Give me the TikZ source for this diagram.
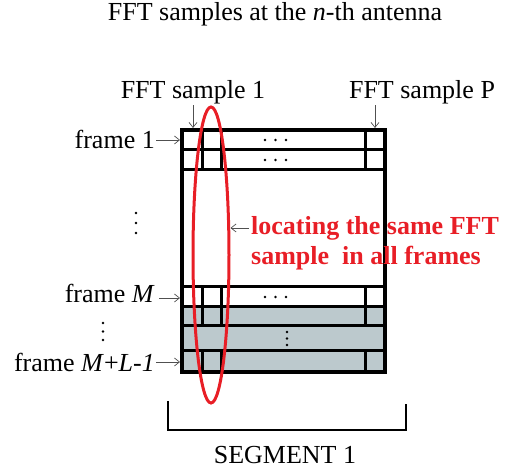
\documentclass[tikz,border=0pt]{standalone}
\usepackage{fontspec}
\setmainfont{Liberation Serif}
\usetikzlibrary{arrows.meta,shapes.geometric}

\definecolor{markrot}{RGB}{232,30,38}
\definecolor{zellgrau}{RGB}{188,201,205}
\definecolor{pfeilgrau}{RGB}{80,80,80}

\begin{document}
\begin{tikzpicture}[x=1pt,y=-1pt,
  >={Straight Barb[length=5pt,width=8pt]},
  every node/.style={font=\fontsize{26}{30}\selectfont, inner sep=1pt},
  zeiger/.style={->, draw=pfeilgrau, line width=0.7pt},
  zelle/.style={draw=black, line width=3pt}]

\useasboundingbox (0,0) rectangle (507,470);

% Titel
\node (titel) at (275,14.5) {FFT samples at the \textit{n}-th antenna};

% Zeilen der Frames mit Zellen
\foreach \yo/\yu/\fb in {130/150/white, 150/170/white, 287/307/white, 307/326/zellgrau, 351/372/zellgrau}
  \foreach \xl/\xr in {182/202, 202/221, 221/365, 365/385}
    \draw[zelle, fill=\fb] (\xl,\yo) rectangle (\xr,\yu);
\draw[zelle, fill=zellgrau] (182,326) rectangle (385,351);

% Rahmen aussen
\draw[line width=3.6pt] (182,130) rectangle (385,372);

% Punkte in den Zeilen
\foreach \y in {140,160,297}
  \foreach \x in {265,275.5,286}
    \fill (\x,\y) circle (1.4pt);
\foreach \y in {332,338.5,345}
  \fill (287,\y) circle (1.4pt);

% Punkte links
\foreach \y in {213,223,233}
  \fill (136,\y) circle (1.4pt);
\foreach \y in {323,331.5,340}
  \fill (103,\y) circle (1.4pt);

% FFT sample 1 und P oben
\node (s1) at (193,92.5) {FFT sample 1};
\node (sP) at (422,92.5) {FFT sample P};
\coordinate (s1p) at (193,128);
\coordinate (sPp) at (375,128);
\draw[zeiger] (s1.south -| s1p) -- (s1p);
\draw[zeiger] (sP.south -| sPp) -- (sPp);

% frame-Beschriftungen links
\node[anchor=east] (f1) at (156,139) {frame 1};
\node[anchor=east] (fM) at (156,293) {frame \textit{M}};
\node[anchor=east] (fML) at (156,362) {frame \textit{M}+\textit{L-1}};
\coordinate (f1p) at (180,140);
\coordinate (fMp) at (180,298);
\coordinate (fMLp) at (180,362);
\draw[zeiger] (f1.east |- f1p) -- (f1p);
\draw[zeiger] ([xshift=3pt]fM.east |- fMp) -- (fMp);
\draw[zeiger] (fML.east |- fMLp) -- (fMLp);

% rote Ellipse um die Spalte
\node[ellipse, draw=markrot, line width=3pt, minimum width=36pt,
  minimum height=296pt, inner sep=0pt] (oval) at (211,255) {};

% Hinweis rechts
\node[anchor=west, align=left, text=markrot, inner sep=0pt,
  font=\fontsize{26}{30}\selectfont\bfseries] (hinweis) at (251,243)
  {locating the same FFT\\sample\ \ in all frames};
\coordinate (hA) at ([xshift=-2pt,yshift=15pt]hinweis.west);
\draw[zeiger] (hA) -- (hA -| oval.east);

% Klammer unten
\draw[line width=2.5pt] (168,401) |- (406,430) -- (406,404);
\node (segment) at (285,455) {SEGMENT 1};

\end{tikzpicture}
\end{document}
